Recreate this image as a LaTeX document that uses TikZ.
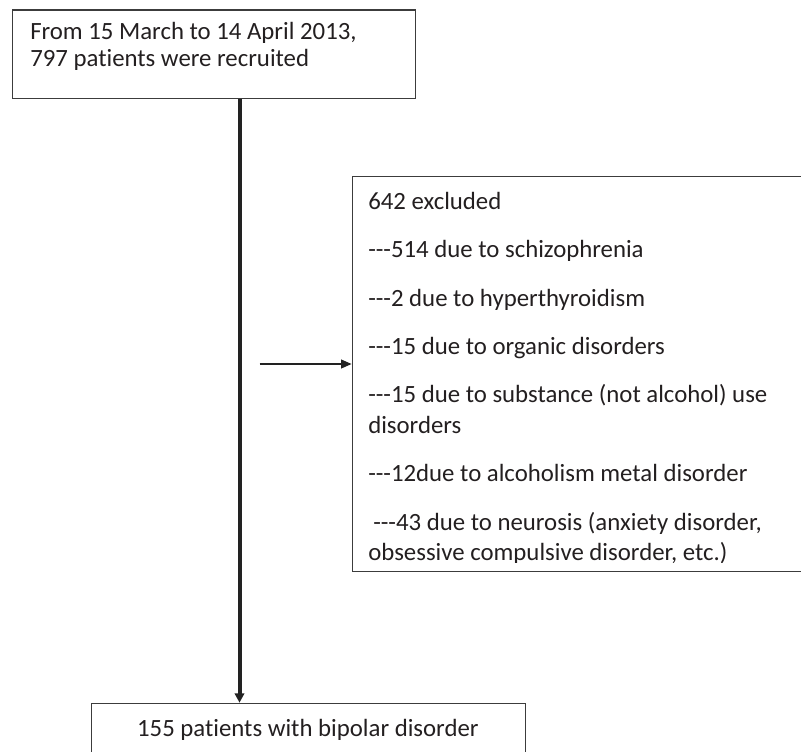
\documentclass[tikz,border=0pt]{standalone}
\usepackage{fontspec}
\newfontfamily\cf{Carlito}[Ligatures={NoCommon}]
\usetikzlibrary{arrows.meta,calc}
\definecolor{txtc}{HTML}{231F20}
\definecolor{bord}{HTML}{3C3C3C}
\definecolor{flowc}{HTML}{222222}
\begin{document}
\begin{tikzpicture}[x=0.75pt,y=-0.75pt,
  box/.style={draw=bord,line width=1pt,inner sep=0pt,anchor=north west},
  label/.style={anchor=base west,inner sep=0pt,text=txtc,font=\cf\fontsize{18.6}{22}\selectfont},
  flow/.style={draw=flowc,line width=3pt},
  side/.style={draw=flowc,line width=1.5pt}]
\useasboundingbox (0,0) rectangle (801,751);
% boxes
\node[box,minimum width=302.0pt,minimum height=66.2pt] (top) at (12,9.3) {};
\node[box,minimum width=358.7pt,minimum height=296.25pt] (excl) at (351.7,175.7) {};
\node[box,minimum width=325.7pt,minimum height=43pt] (bot) at (90.7,702.7) {};
% top texts
\node[label] (t1) at (30,39) {From 15 March to 14 April 2013,};
\node[label] (t2) at (30,66) {797 patients were recruited};
% exclusion texts
\node[label] (e1) at (368,209.3) {642 excluded};
\node[label] (e2) at (368,257.7) {---514 due to schizophrenia};
\node[label] (e3) at (368,306) {---2 due to hyperthyroidism};
\node[label] (e4) at (368,354) {---15 due to organic disorders};
\node[label] (e5) at (368,402.3) {---15 due to substance (not alcohol) use};
\node[label] (e6) at (368,433.3) {disorders};
\node[label] (e7) at (368,481.7) {---12due to alcoholism metal disorder};
\node[label] (e8) at (373,530) {---43 due to neurosis (anxiety disorder,};
\begin{scope}
\clip (351.7,175.7) rectangle (801,562);
\node[label] (e9) at (368,560) {obsessive compulsive disorder, etc.)};
\end{scope}
% bottom text
\node[label,anchor=base] (b1) at (307.9,736) {155 patients with bipolar disorder};
% connectors
\coordinate (vx) at (239.5,0);
\draw[flow,-{Triangle[length=7pt,width=7pt]}] (vx |- top.south) -- (vx |- bot.north);
\coordinate (hs) at (259.7,364);
\draw[side,-{Triangle[length=8pt,width=6.5pt]}] (hs) -- (hs -| excl.west);
\end{tikzpicture}
\end{document}
